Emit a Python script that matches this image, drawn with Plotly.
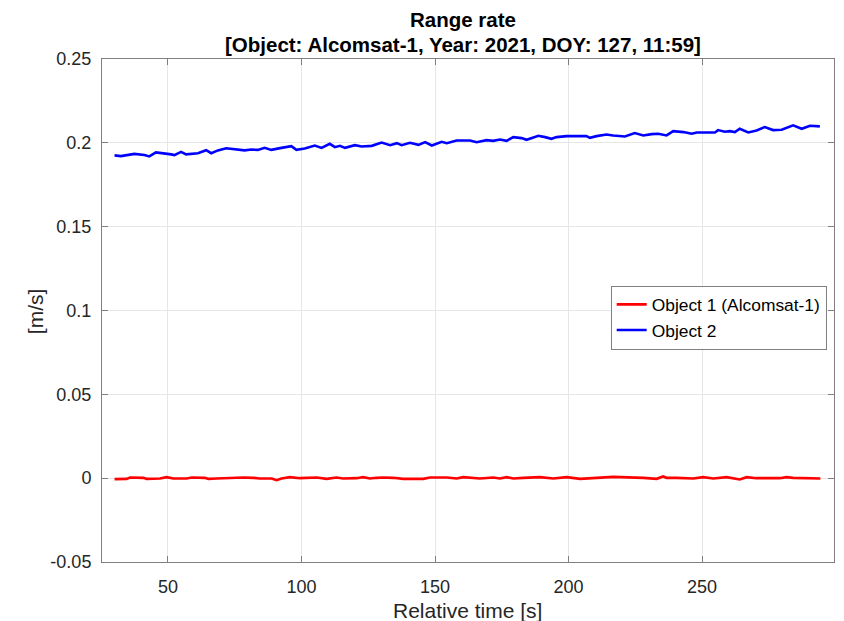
import plotly.graph_objects as go

# Object 1 (Alcomsat-1) range rate samples
t_obj1 = [30.0, 34.5, 35.8, 40.8, 42.0, 47.0, 49.5, 52.0, 57.0, 58.9, 63.8, 65.1, 68.2, 74.4, 75.7,
          78.2, 81.9, 84.4, 88.8, 90.7, 92.5, 95.7, 99.4, 103.1, 105.7, 109.4, 113.1, 115.6, 120.6,
          123.1, 125.6, 128.1, 130.6, 134.4, 138.1, 145.6, 148.1, 154.4, 158.1, 160.6, 166.8, 171.8,
          174.3, 176.8, 179.3, 183.1, 189.3, 194.3, 199.3, 204.3, 209.3, 216.7, 228.0, 233.0, 235.4,
          236.7, 240.5, 246.7, 250.4, 254.2, 259.2, 261.6, 264.1, 266.7, 270.4, 279.1, 281.6, 284.1,
          289.1, 294.3]
v_obj1 = [-0.0006, -0.0004, 0.0004, 0.0002, -0.0004, -0.0002, 0.0006, -0.0002, -0.0002, 0.0004,
          0.0002, -0.0004, -0.0002, 0.0002, 0.0006, 0.0004, 0.0002, -0.0002, -0.0002, -0.0012,
          -0.0002, 0.0006, 0.0, 0.0, 0.0004, -0.0004, 0.0004, -0.0002, 0.0, 0.0006, -0.0002, 0.0002,
          0.0004, 0.0002, -0.0004, -0.0004, 0.0004, 0.0004, -0.0002, 0.0006, -0.0002, 0.0004,
          -0.0002, 0.0006, -0.0002, 0.0002, 0.0006, -0.0002, 0.0006, -0.0004, 0.0002, 0.0008,
          0.0002, -0.0004, 0.001, 0.0002, 0.0002, -0.0002, 0.0006, -0.0002, 0.0006, -0.0002,
          -0.0008, 0.0006, 0.0, 0.0, 0.0006, 0.0002, 0.0002, -0.0002]

# Object 2 range rate samples
t_obj2 = [30.0, 32.4, 37.4, 41.2, 43.0, 45.5, 51.2, 52.4, 54.9, 56.8, 61.2, 64.3, 66.2, 68.7, 71.8,
          74.9, 78.7, 81.2, 83.7, 86.2, 88.7, 92.5, 96.2, 98.1, 101.2, 105.0, 107.5, 110.6, 112.5,
          114.4, 116.3, 120.0, 122.5, 126.3, 130.0, 133.2, 135.7, 137.5, 140.6, 143.8, 146.3, 148.8,
          152.5, 154.4, 158.1, 163.1, 165.6, 169.3, 171.8, 174.3, 176.8, 179.3, 182.4, 184.3, 188.7,
          191.2, 193.6, 195.5, 199.3, 206.7, 208.0, 210.5, 214.2, 216.7, 221.1, 224.8, 228.0, 231.1,
          233.6, 236.7, 239.2, 243.0, 246.1, 248.0, 254.8, 256.0, 258.5, 260.4, 262.3, 264.1, 267.3,
          270.4, 273.5, 276.6, 279.8, 284.1, 287.3, 290.4, 294.1]
v_obj2 = [0.1925, 0.1921, 0.1934, 0.1927, 0.1919, 0.1943, 0.1931, 0.1927, 0.1946, 0.1931, 0.1938,
          0.1956, 0.1938, 0.1955, 0.1968, 0.1962, 0.1955, 0.1960, 0.1958, 0.1970, 0.1958, 0.1970,
          0.1980, 0.1958, 0.1966, 0.1984, 0.1970, 0.1994, 0.1974, 0.1982, 0.1970, 0.1986, 0.1978,
          0.1982, 0.2002, 0.1986, 0.1998, 0.1986, 0.2000, 0.1988, 0.2004, 0.1984, 0.2006, 0.1998,
          0.2014, 0.2014, 0.2004, 0.2016, 0.2012, 0.2020, 0.2012, 0.2034, 0.2028, 0.2018, 0.2042,
          0.2034, 0.2024, 0.2034, 0.2040, 0.2040, 0.2030, 0.2040, 0.2050, 0.2044, 0.2038, 0.2058,
          0.2044, 0.2052, 0.2054, 0.2044, 0.2070, 0.2064, 0.2054, 0.2062, 0.2062, 0.2076, 0.2066,
          0.2070, 0.2064, 0.2084, 0.2062, 0.2074, 0.2094, 0.2076, 0.2078, 0.2104, 0.2084, 0.2102,
          0.2098]

x_ticks = [50, 100, 150, 200, 250]
y_ticks = [-0.05, 0, 0.05, 0.1, 0.15, 0.2, 0.25]
y_tick_text = ["-0.05", "0", "0.05", "0.1", "0.15", "0.2", "0.25"]

title_line1 = "Range rate"
title_line2 = "[Object: Alcomsat-1, Year: 2021, DOY: 127, 11:59]"
x_title = "Relative time [s]"
y_title = "[m/s]"

FONT = "Liberation Sans, Arial, sans-serif"
AX = "#262626"

fig = go.Figure()
fig.add_trace(go.Scatter(x=t_obj1, y=v_obj1, mode="lines", name="Object 1 (Alcomsat-1)",
                         line=dict(color="#ff0000", width=2.6)))
fig.add_trace(go.Scatter(x=t_obj2, y=v_obj2, mode="lines", name="Object 2",
                         line=dict(color="#0000ff", width=2.6)))

axis_common = dict(showline=True, linecolor="#808080", linewidth=1, mirror="ticks",
                   ticks="inside", ticklen=6, tickcolor="#808080", showgrid=True,
                   gridcolor="#e6e6e6", gridwidth=1, zeroline=False,
                   tickfont=dict(family=FONT, size=18, color=AX))

fig.update_xaxes(range=[25.3, 299.4], tickvals=x_ticks, ticklabelstandoff=8, **axis_common)
fig.update_yaxes(range=[-0.05, 0.25], tickvals=y_ticks, ticktext=y_tick_text,
                 ticklabelstandoff=6, **axis_common)

annotations = [
    dict(text="<b>" + title_line1 + "</b>", x=0.493, y=1.079, xref="paper", yref="paper",
         xanchor="center", yanchor="middle", showarrow=False,
         font=dict(family=FONT, size=20.5, color="black")),
    dict(text="<b>" + title_line2 + "</b>", x=0.493, y=1.029, xref="paper", yref="paper",
         xanchor="center", yanchor="middle", showarrow=False,
         font=dict(family=FONT, size=20.5, color="black")),
    dict(text=x_title, x=0.4996, y=-0.096, xref="paper", yref="paper",
         xanchor="center", yanchor="middle", showarrow=False,
         font=dict(family=FONT, size=21, color=AX)),
    dict(text=y_title, x=-0.0906, y=0.498, xref="paper", yref="paper", textangle=-90,
         xanchor="center", yanchor="middle", showarrow=False,
         font=dict(family=FONT, size=21, color=AX)),
]

fig.update_layout(
    width=844, height=621,
    margin=dict(l=102, r=10, t=59, b=59),
    paper_bgcolor="white", plot_bgcolor="white",
    annotations=annotations,
    legend=dict(x=0.99, xanchor="right", y=0.5495, yanchor="top",
                bgcolor="white", bordercolor="#808080", borderwidth=1,
                font=dict(family=FONT, size=17.4, color="black"),
                tracegroupgap=0, itemwidth=30),
    showlegend=True,
)

fig.write_html("out.html", config={"displayModeBar": False},
               post_script="document.body.style.margin='0';document.body.style.overflow='hidden';")
